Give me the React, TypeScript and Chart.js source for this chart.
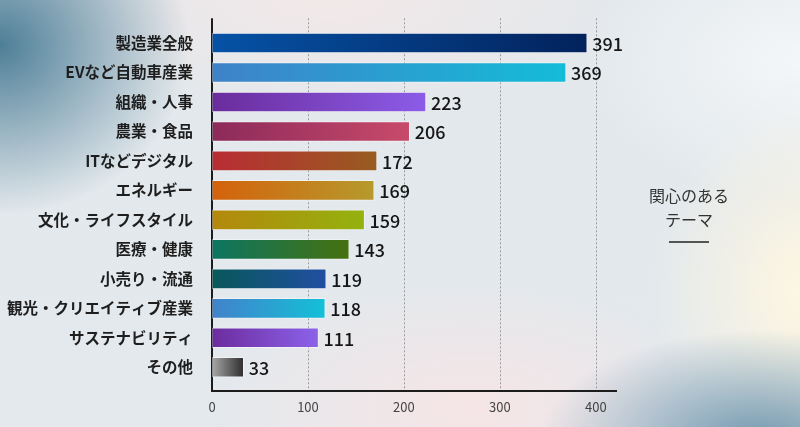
import React, { useEffect, useRef } from "react";
import { Chart, registerables } from "chart.js";

Chart.register(...registerables);

const categories = [
  "製造業全般",
  "EVなど自動車産業",
  "組織・人事",
  "農業・食品",
  "ITなどデジタル",
  "エネルギー",
  "文化・ライフスタイル",
  "医療・健康",
  "小売り・流通",
  "観光・クリエイティブ産業",
  "サステナビリティ",
  "その他",
];
const values = [391, 369, 223, 206, 172, 169, 159, 143, 119, 118, 111, 33];
const xTicks = [0, 100, 200, 300, 400];
const legendLines = ["関心のある", "テーマ"];

const gradStart = [
  "#0652a6", "#3f82c8", "#6a2c9c", "#8c2a5a", "#b92c34", "#d4620c",
  "#b4880c", "#0c7662", "#07585a", "#4282ca", "#6c2c9e", "#a8a8a8",
];
const gradEnd = [
  "#03225c", "#14bcd8", "#8c5ce8", "#c84a6a", "#985c20", "#b69a2c",
  "#94b20e", "#46700e", "#224ea2", "#14c0d8", "#8c62ea", "#2e2c2c",
];

const FONT_CJK = "'Noto Sans CJK JP', 'Noto Sans', sans-serif";

export default function App() {
  const canvasRef = useRef<HTMLCanvasElement | null>(null);

  useEffect(() => {
    document.body.style.margin = "0";
    const canvas = canvasRef.current;
    if (!canvas) return;

    const framePlugin = {
      id: "frame",
      beforeDatasetsDraw(chart: any) {
        const { ctx, chartArea, scales } = chart;
        const x = scales.x;
        const top = chartArea.top - 10;
        const bottom = chartArea.bottom + 9;
        ctx.save();
        ctx.strokeStyle = "#9a9a9a";
        ctx.lineWidth = 1;
        ctx.setLineDash([2, 2]);
        xTicks.forEach((t) => {
          if (t === 0) return;
          const px = Math.round(x.getPixelForValue(t)) + 0.5;
          ctx.beginPath();
          ctx.moveTo(px, top);
          ctx.lineTo(px, bottom);
          ctx.stroke();
        });
        ctx.setLineDash([]);
        ctx.strokeStyle = "#1c1c1c";
        ctx.lineWidth = 2;
        const x0 = x.getPixelForValue(0);
        ctx.beginPath();
        ctx.moveTo(x0, top);
        ctx.lineTo(x0, bottom);
        ctx.lineTo(chartArea.right + 2, bottom);
        ctx.stroke();
        ctx.restore();
      },
      afterDatasetsDraw(chart: any) {
        const { ctx } = chart;
        const meta = chart.getDatasetMeta(0);
        ctx.save();
        ctx.fillStyle = "#161616";
        ctx.font = `500 18px ${FONT_CJK}`;
        ctx.textAlign = "left";
        ctx.textBaseline = "middle";
        meta.data.forEach((bar: any, i: number) => {
          ctx.fillText(String(values[i]), bar.x + 5, bar.y + 1);
        });
        ctx.fillStyle = "#333333";
        ctx.font = `400 16px ${FONT_CJK}`;
        ctx.textAlign = "center";
        ctx.fillText(legendLines[0], 689, 196);
        ctx.fillText(legendLines[1], 689, 220);
        ctx.strokeStyle = "#222222";
        ctx.lineWidth = 1.5;
        ctx.beginPath();
        ctx.moveTo(669, 242);
        ctx.lineTo(709, 242);
        ctx.stroke();
        ctx.restore();
      },
    };

    const chart = new Chart(canvas, {
      type: "bar",
      data: {
        labels: categories,
        datasets: [
          {
            data: values,
            barThickness: 20,
            borderWidth: 1,
            borderColor: "rgba(255,255,255,0.45)",
            borderSkipped: false,
            backgroundColor: (c: any) => {
              const ch = c.chart;
              const xs = ch.scales && ch.scales.x;
              const i = c.dataIndex;
              if (!xs || !ch.chartArea || i === undefined) return gradStart[i || 0];
              const x0 = xs.getPixelForValue(0);
              const x1 = xs.getPixelForValue(values[i]);
              const g = ch.ctx.createLinearGradient(x0, 0, x1, 0);
              g.addColorStop(0, gradStart[i]);
              g.addColorStop(1, gradEnd[i]);
              return g;
            },
          },
        ],
      },
      options: {
        indexAxis: "y",
        responsive: false,
        animation: false,
        layout: { padding: { top: 28, right: 185, left: 0, bottom: 0 } },
        plugins: {
          legend: { display: false },
          tooltip: { enabled: false },
        },
        scales: {
          x: {
            min: 0,
            max: 420,
            border: { display: false },
            grid: { display: false, drawTicks: false },
            afterFit: (s: any) => {
              s.height = 45;
            },
            afterBuildTicks: (s: any) => {
              s.ticks = xTicks.map((v) => ({ value: v }));
            },
            ticks: {
              padding: 17,
              color: "#444444",
              font: { family: FONT_CJK, size: 13, weight: "normal" },
            },
          },
          y: {
            border: { display: false },
            grid: { display: false, drawTicks: false },
            afterFit: (s: any) => {
              s.width = 212;
            },
            ticks: {
              padding: 19,
              color: "#1e1e1e",
              font: { family: FONT_CJK, size: 15.5, weight: "bold" },
            },
          },
        },
      },
      plugins: [framePlugin],
    } as any);

    return () => chart.destroy();
  }, []);

  const bg = [
    "radial-gradient(ellipse 190px 170px at 0px 45px, rgba(62,115,142,0.9), rgba(62,115,142,0) 100%)",
    "radial-gradient(ellipse 220px 110px at 760px 440px, rgba(95,138,165,0.85), rgba(95,138,165,0) 100%)",
    "radial-gradient(ellipse 160px 190px at 810px 290px, rgba(255,247,225,1), rgba(255,247,225,0) 100%)",
    "radial-gradient(ellipse 220px 140px at 800px 60px, rgba(246,248,250,0.9), rgba(246,248,250,0) 100%)",
    "radial-gradient(ellipse 260px 130px at 470px 410px, rgba(250,228,228,0.8), rgba(250,228,228,0) 100%)",
    "radial-gradient(ellipse 320px 120px at 330px 0px, rgba(245,232,232,0.85), rgba(245,232,232,0) 100%)",
    "linear-gradient(180deg, #e2e8ec 0%, #e4e9ed 100%)",
  ].join(", ");

  return (
    <div style={{ width: 800, height: 427, background: bg, position: "relative" }}>
      <canvas ref={canvasRef} width={800} height={427} style={{ display: "block" }} />
    </div>
  );
}
